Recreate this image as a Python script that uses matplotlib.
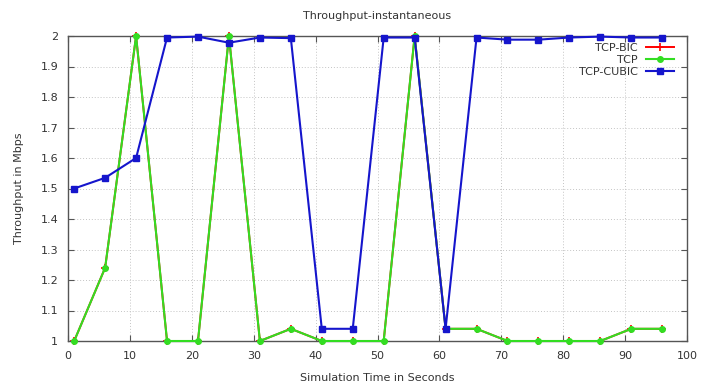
import matplotlib
matplotlib.use("Agg")
import matplotlib.pyplot as plt

time_s = [1, 6, 11, 16, 21, 26, 31, 36, 41, 46, 51, 56, 61, 66, 71, 76, 81, 86, 91, 96]
tcp_bic = [1.0, 1.24, 2.0, 1.0, 1.0, 2.0, 1.0, 1.04, 1.0, 1.0, 1.0, 2.0, 1.04, 1.04, 1.0, 1.0, 1.0, 1.0, 1.04, 1.04]
tcp = [1.0, 1.24, 2.0, 1.0, 1.0, 2.0, 1.0, 1.04, 1.0, 1.0, 1.0, 2.0, 1.04, 1.04, 1.0, 1.0, 1.0, 1.0, 1.04, 1.04]
tcp_cubic = [1.50, 1.535, 1.60, 1.995, 1.998, 1.978, 1.995, 1.993, 1.04, 1.04,
             1.995, 1.995, 1.04, 1.995, 1.988, 1.988, 1.995, 1.998, 1.995, 1.995]
x_ticks = [0, 10, 20, 30, 40, 50, 60, 70, 80, 90, 100]
y_ticks = [1, 1.1, 1.2, 1.3, 1.4, 1.5, 1.6, 1.7, 1.8, 1.9, 2]
y_ticklabels = ["1", "1.1", "1.2", "1.3", "1.4", "1.5", "1.6", "1.7", "1.8", "1.9", "2"]

plt.rcParams['font.family'] = ['DejaVu Sans']
txt = '#333333'
fig = plt.figure(figsize=(7.15, 3.83), dpi=100)
ax = fig.add_axes([68/715, 1-341/383, (687-68)/715, (341-36)/383])

ax.plot(time_s, tcp_bic, color='#ff0000', lw=1.4, marker='+', ms=6, mew=1.2, label='TCP-BIC', clip_on=False, zorder=2)
ax.plot(time_s, tcp, color='#33dd22', lw=1.5, marker='o', ms=4, label='TCP', clip_on=False, zorder=3)
ax.plot(time_s, tcp_cubic, color='#1515cc', lw=1.5, marker='s', ms=4.5, label='TCP-CUBIC', clip_on=False, zorder=4)

ax.set_xlim(0, 100)
ax.set_ylim(1, 2)
ax.set_xticks(x_ticks)
ax.set_yticks(y_ticks)
ax.set_yticklabels(y_ticklabels)
ax.grid(True, color='#c4c4c4', linestyle=(0, (1, 2)), lw=0.7)
ax.tick_params(direction='in', top=True, right=True, length=4, labelsize=8, labelcolor=txt, color='#555555')
ax.tick_params(axis='x', pad=7)
ax.tick_params(axis='y', pad=7)
for s in ax.spines.values():
    s.set_color('#555555')
    s.set_linewidth(1.0)

ax.set_title('Throughput-instantaneous', fontsize=8, color=txt, pad=12)
ax.set_xlabel('Simulation Time in Seconds', fontsize=8, color=txt, labelpad=9)
ax.set_ylabel('Throughput in Mbps', fontsize=8, color=txt, labelpad=12)

leg = ax.legend(loc='upper right', bbox_to_anchor=(0.99, 1.0), frameon=False, fontsize=8,
                markerfirst=False, handlelength=2.5, labelspacing=0.2, borderaxespad=0.2)
for t in leg.get_texts():
    t.set_color(txt)

fig.savefig('out.png', dpi=100)
